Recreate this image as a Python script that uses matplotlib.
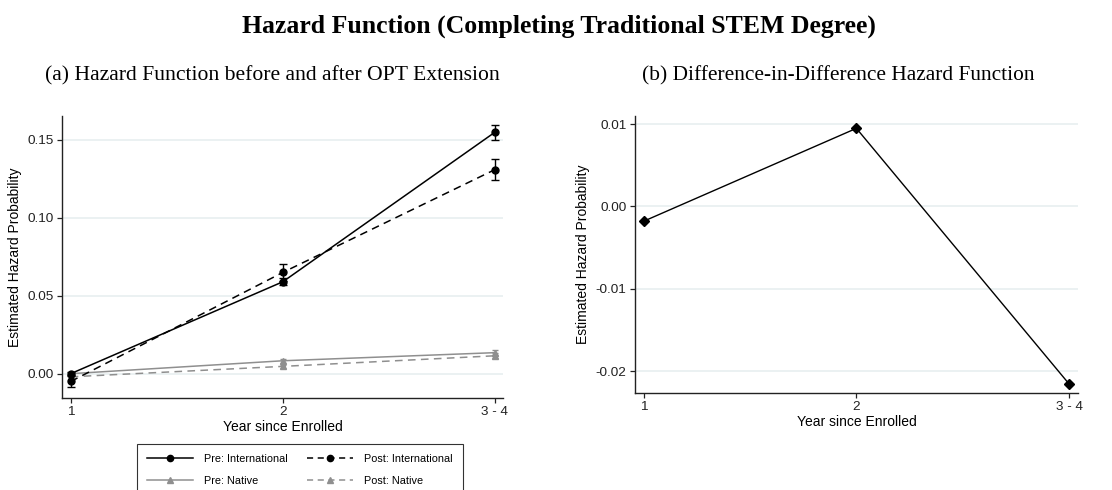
import matplotlib
matplotlib.use("Agg")
import matplotlib.pyplot as plt
from matplotlib.lines import Line2D

# Data
years = [1, 2, 3]
year_labels = ["1", "2", "3 - 4"]

pre_int = [0.000, 0.059, 0.155]
pre_int_err = [0.0010, 0.0022, 0.0047]
post_int = [-0.005, 0.065, 0.131]
post_int_err = [0.0038, 0.0052, 0.0067]
pre_nat = [0.000, 0.0083, 0.0135]
pre_nat_err = [0.0008, 0.0012, 0.0015]
post_nat = [-0.002, 0.0047, 0.0115]
post_nat_err = [0.0008, 0.0012, 0.0015]

did = [-0.0018, 0.0095, -0.0216]

left_ticks = [0.00, 0.05, 0.10, 0.15]
right_ticks = [-0.02, -0.01, 0.00, 0.01]

SANS = "Liberation Sans"
SERIF = "Liberation Serif"
GRAY = "#8f8f8f"
GRID = "#e6eeef"

fig = plt.figure(figsize=(11.12, 4.90), dpi=100)

ax1 = fig.add_axes([62 / 1112, 1 - 398 / 490, 441 / 1112, 282 / 490])
ax2 = fig.add_axes([635 / 1112, 1 - 393 / 490, 443 / 1112, 277 / 490])


def style_axis(ax, ticks, fmt):
    for s in ("top", "right"):
        ax.spines[s].set_visible(False)
    for s in ("left", "bottom"):
        ax.spines[s].set_linewidth(1.0)
        ax.spines[s].set_color("#222222")
    ax.set_xticks(years)
    ax.set_xticklabels(year_labels, fontfamily=SANS, fontsize=9.7)
    ax.set_yticks(ticks)
    ax.set_yticklabels([fmt.format(t) for t in ticks], fontfamily=SANS, fontsize=9.7)
    ax.tick_params(direction="out", length=3.6, width=0.9, colors="#222222", pad=2.5)
    ax.yaxis.grid(True, color=GRID, linewidth=1.1)
    ax.set_axisbelow(True)
    ax.set_xlabel("Year since Enrolled", fontfamily=SANS, fontsize=10, labelpad=1)
    ax.set_ylabel("Estimated Hazard Probability", fontfamily=SANS, fontsize=10, labelpad=4)


# Panel (a): hazard functions with confidence bars
ax1.errorbar(years, pre_int, yerr=pre_int_err, color="black", lw=1.1, marker="o",
             ms=5, capsize=3, elinewidth=1.0, capthick=1.0, zorder=4)
ax1.errorbar(years, post_int, yerr=post_int_err, color="black", lw=1.1, marker="o",
             ms=5, capsize=3, elinewidth=1.0, capthick=1.0, dashes=(5, 3.5), zorder=4)
ax1.errorbar(years, pre_nat, yerr=pre_nat_err, color=GRAY, lw=1.1, marker="^",
             ms=4.5, capsize=2.5, elinewidth=1.0, capthick=1.0, zorder=3)
ax1.errorbar(years, post_nat, yerr=post_nat_err, color=GRAY, lw=1.1, marker="^",
             ms=4.5, capsize=2.5, elinewidth=1.0, capthick=1.0, dashes=(5, 3.5), zorder=3)
ax1.set_xlim(0.959, 3.038)
ax1.set_ylim(-0.0156, 0.1654)
style_axis(ax1, left_ticks, "{:.2f}")

# Panel (b): difference-in-difference
ax2.plot(years, did, color="black", lw=1.0, marker="D", ms=5, zorder=4)
ax2.set_xlim(0.96, 3.041)
ax2.set_ylim(-0.02267, 0.0110)
style_axis(ax2, right_ticks, "{:.2f}")

# Legend for panel (a)
handles = [
    Line2D([], [], color="black", lw=1.1, marker="o", ms=4.5),
    Line2D([], [], color=GRAY, lw=1.1, marker="^", ms=4),
    Line2D([], [], color="black", lw=1.1, marker="o", ms=4.5, dashes=(4, 3)),
    Line2D([], [], color=GRAY, lw=1.1, marker="^", ms=4, dashes=(4, 3)),
]
labels = ["Pre: International", "Pre: Native", "Post: International", "Post: Native"]
leg = fig.legend(handles, labels, ncol=2, loc="upper left",
                 bbox_to_anchor=(137 / 1112, 1 - 444 / 490),
                 prop={"family": SANS, "size": 7.8}, frameon=True, fancybox=False,
                 edgecolor="black", handlelength=4.25, handletextpad=1.0,
                 columnspacing=1.8, borderpad=0.95, labelspacing=1.05, numpoints=1,
                 borderaxespad=0)
leg.get_frame().set_linewidth(0.8)

# Titles
fig.text(559 / 1112, 1 - 26 / 490, "Hazard Function (Completing Traditional STEM Degree)",
         ha="center", va="center", fontfamily=SERIF, fontweight="bold", fontsize=18.5)
fig.text(272 / 1112, 1 - 76 / 490, "(a) Hazard Function before and after OPT Extension",
         ha="center", va="center", fontfamily=SERIF, fontsize=15.6)
fig.text(838 / 1112, 1 - 76 / 490, "(b) Difference-in-Difference Hazard Function",
         ha="center", va="center", fontfamily=SERIF, fontsize=15.4)

fig.savefig("out.png", dpi=100, facecolor="white")
